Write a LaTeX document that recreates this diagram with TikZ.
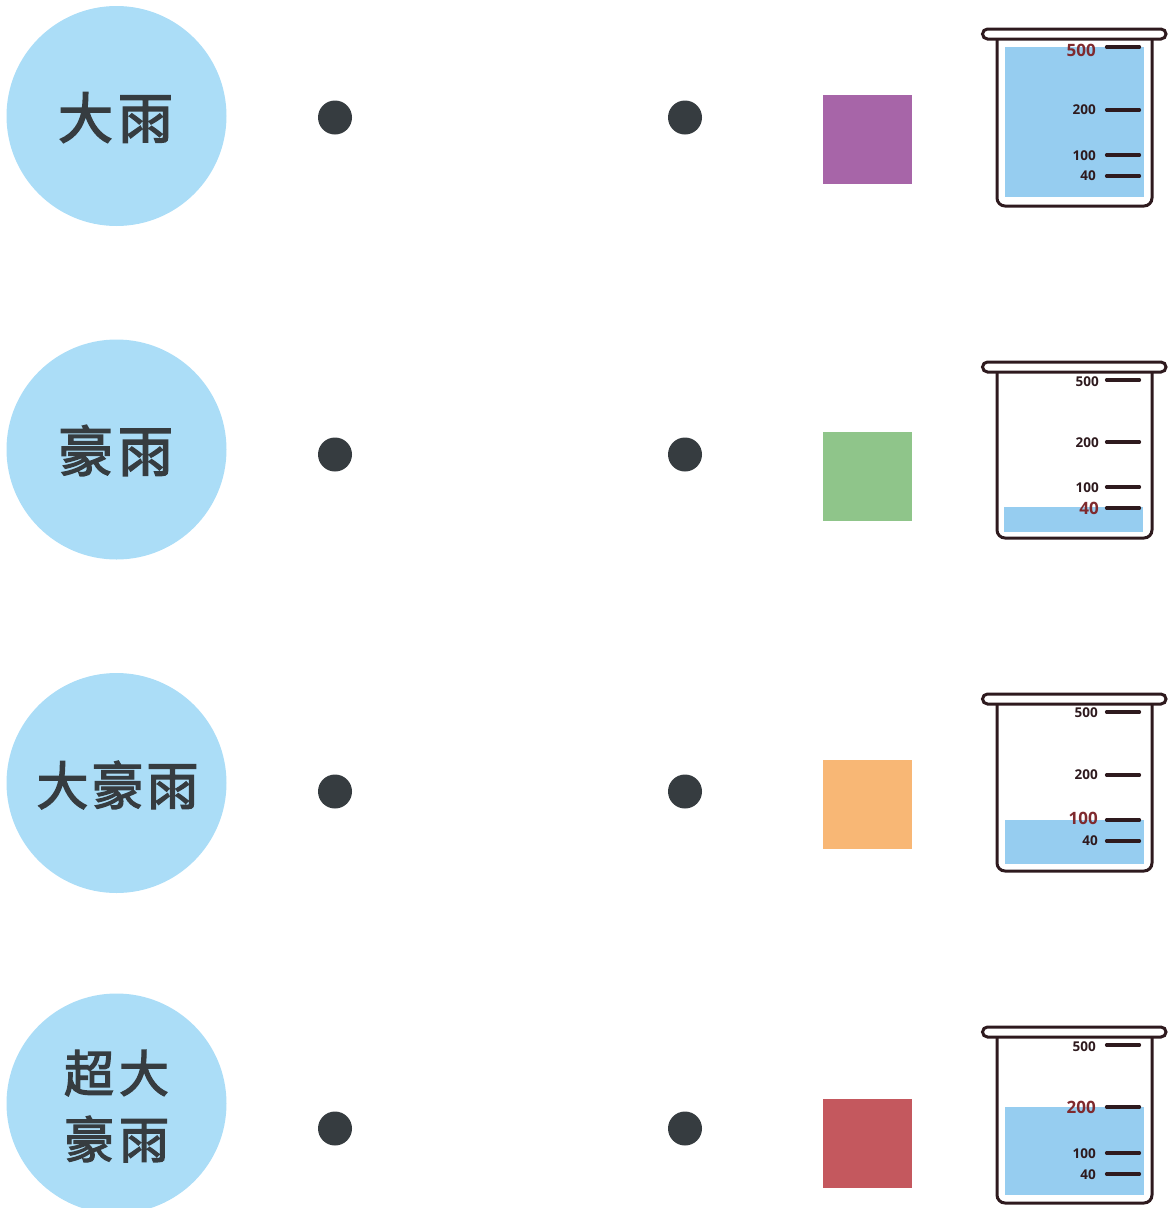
\documentclass[tikz,border=0pt]{standalone}
\usepackage{fontspec}
\setmainfont{Open Sans}
\newfontfamily\cjk[FakeBold=2.6]{Noto Sans CJK TC}
\definecolor{circ}{HTML}{ABDDF7}
\definecolor{ink}{HTML}{363C40}
\definecolor{beak}{HTML}{2E1A1E}
\definecolor{water}{HTML}{96CDF0}
\definecolor{redlab}{HTML}{7F2A2E}
\definecolor{sqa}{HTML}{A765A8}
\definecolor{sqb}{HTML}{8FC58A}
\definecolor{sqc}{HTML}{F8B775}
\definecolor{sqd}{HTML}{C4585E}
\tikzset{
  blob/.style={circle,fill=circ,minimum size=220pt,inner sep=0pt,align=center},
  cjklab/.style={font=\cjk\fontsize{#1}{#1}\selectfont,text=ink},
  dotm/.style={circle,fill=ink,minimum size=34pt,inner sep=0pt},
  swatch/.style={minimum size=89pt,inner sep=0pt,fill=#1},
  glass/.style={draw=beak,line width=3pt},
  gradtick/.style={draw=beak,line width=3.2pt,line cap=round},
  gradlab/.style={anchor=east,inner sep=0pt,font=\bfseries\fontsize{13.5}{13.5}\selectfont,text=beak},
  gradhot/.style={anchor=east,inner sep=0pt,font=\bfseries\fontsize{17}{17}\selectfont,text=redlab}
}
% #1 rim top, #2 bottom, #3 water left, #4 water top, #5 water right, #6 water bottom
\newcommand{\beakerbody}[6]{
  \draw[glass,rounded corners=8pt] (997,#1+10) -- (997,#2) -- (1152,#2) -- (1152,#1+10);
  \fill[water] (#3,#4) rectangle (#5,#6);
  \draw[glass,fill=white,rounded corners=5pt] (982.5,#1) rectangle (1166,#1+10);
}
% #1 id, #2 tick y, #3 label, #4 right edge, #5 style, #6 label y
\newcommand{\grad}[6]{
  \coordinate (#1a) at (1106.5,#2);
  \coordinate (#1b) at (1139.5,#2);
  \draw[gradtick] (#1a) -- (#1b);
  \node[#5] (#1t) at (#4,#6) {#3};
}
\begin{document}
\begin{tikzpicture}[x=1pt,y=-1pt]
\useasboundingbox (0,0) rectangle (1169,1208);
\clip (0,0) rectangle (1169,1208);
\node[blob] (c1) at (116.5,116) {};
\node[blob] (c2) at (116.5,449.5) {};
\node[blob] (c3) at (116.5,783) {};
\node[blob] (c4) at (116.5,1103.5) {};
\node[cjklab=55] (t1) at (115.5,117.5) {大\hspace{5pt}雨};
\node[cjklab=55] (t2) at (115.5,450.5) {豪\hspace{5pt}雨};
\node[cjklab=52] (t3) at (117.5,785) {大\hspace{3pt}豪\hspace{3pt}雨};
\node[cjklab=50] (t4a) at (116.5,1073) {超\hspace{5pt}大};
\node[cjklab=50] (t4b) at (116.5,1139) {豪\hspace{5pt}雨};
\foreach \n/\y in {1/117.5,2/454.5,3/791.5,4/1128.5}{
  \node[dotm] (l\n) at (335,\y) {};
  \node[dotm] (r\n) at (685,\y) {};
}
\node[swatch=sqa] (s1) at (867.5,139.5) {};
\node[swatch=sqb] (s2) at (867.5,476.5) {};
\node[swatch=sqc] (s3) at (867.5,804.5) {};
\node[swatch=sqd] (s4) at (867.5,1143.5) {};
\beakerbody{29}{206}{1005}{47}{1143.5}{197}
\grad{a5}{47}{500}{1096}{gradhot}{50}
\grad{a2}{110}{200}{1096}{gradlab}{109.5}
\grad{a1}{155}{100}{1096}{gradlab}{156}
\grad{a0}{176}{40}{1096}{gradlab}{175.5}
\beakerbody{362}{538}{1004}{507}{1143}{532}
\grad{b5}{380}{500}{1099}{gradlab}{382}
\grad{b2}{442}{200}{1099}{gradlab}{443}
\grad{b1}{487}{100}{1099}{gradlab}{488}
\grad{b0}{508}{40}{1099}{gradhot}{508.5}
\beakerbody{694}{871}{1005}{820}{1144}{864}
\grad{c5}{712}{500}{1098}{gradlab}{712.5}
\grad{c2}{775}{200}{1098}{gradlab}{774.5}
\grad{c1}{820}{100}{1098}{gradhot}{818.5}
\grad{c0}{841}{40}{1098}{gradlab}{840.5}
\beakerbody{1027}{1203}{1005}{1107}{1143.5}{1195}
\grad{d5}{1045}{500}{1096}{gradlab}{1046.5}
\grad{d2}{1107}{200}{1096}{gradhot}{1107.5}
\grad{d1}{1153}{100}{1096}{gradlab}{1153.5}
\grad{d0}{1174}{40}{1096}{gradlab}{1174.5}
\end{tikzpicture}
\end{document}
